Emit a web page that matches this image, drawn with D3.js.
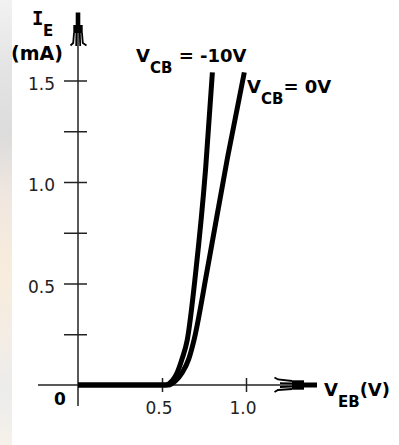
<!DOCTYPE html>
<html>
<head>
<meta charset="utf-8">
<script src="https://cdn.jsdelivr.net/npm/d3@7"></script>
<style>
  html, body { margin: 0; padding: 0; background: #fff; }
  svg { display: block; }
  .tick-label { font-family: "DejaVu Sans", Verdana, sans-serif; font-size: 17px; fill: #222; }
  .bold { font-family: "DejaVu Sans", Verdana, sans-serif; font-weight: bold; fill: #000; }
</style>
</head>
<body>
<div id="app"></div>
<script>
// transistor input characteristic, I_E vs V_EB

const vEB_cb10 = [0, 0.52, 0.56, 0.59, 0.62, 0.65, 0.70, 0.76, 0.80];
const iE_cb10  = [0, 0,    0.02, 0.06, 0.13, 0.22, 0.55, 1.07, 1.54];
const vEB_cb0  = [0, 0.54, 0.58, 0.62, 0.66, 0.69, 0.77, 0.89, 0.99];
const iE_cb0   = [0, 0,    0.02, 0.06, 0.13, 0.22, 0.57, 1.12, 1.54];

const xTicks = [0.5, 1.0];
const xTickLabels = ['0.5', '1.0'];
const yTicks = [0.25, 0.5, 0.75, 1.0, 1.25, 1.5];
const yTickLabels = ['', '0.5', '', '1.0', '', '1.5'];

const W = 399, H = 445;
const app = document.getElementById('app');

const svg = d3.select(app).append('svg')
  .attr('width', W)
  .attr('height', H);

// blurry strip on the left edge
const grad = svg.append('defs').append('linearGradient')
  .attr('id', 'strip').attr('x1', 0).attr('y1', 0).attr('x2', 0).attr('y2', 1);
[[0, '#f2f2f2'], [0.15, '#e4e4e4'], [0.3, '#dcdcdc'], [0.45, '#f1e7e0'],
 [0.6, '#f8ecdc'], [0.75, '#f4ede4'], [0.88, '#ececec'], [1, '#f6f1ea']]
  .forEach(s => grad.append('stop').attr('offset', s[0]).attr('stop-color', s[1]));
svg.append('rect').attr('x', 0).attr('y', 0).attr('width', 12).attr('height', H)
  .attr('fill', 'url(#strip)');

const x = d3.scaleLinear().domain([0, 0.5]).range([78, 162]);
const y = d3.scaleLinear().domain([0, 1.5]).range([385, 80.5]);

const axisColor = '#222';

// axis lines
svg.append('line').attr('x1', 38).attr('x2', 300).attr('y1', y(0)).attr('y2', y(0))
  .attr('stroke', axisColor).attr('stroke-width', 1.5);
svg.append('line').attr('x1', x(0)).attr('x2', x(0)).attr('y1', 406).attr('y2', 25)
  .attr('stroke', axisColor).attr('stroke-width', 1.5);

// y ticks (crossing the axis)
const yAxis = svg.append('g')
  .attr('transform', `translate(${x(0)},0)`)
  .call(d3.axisLeft(y).tickValues(yTicks).tickSize(14).tickFormat(''));
yAxis.select('.domain').remove();
yAxis.selectAll('.tick line').attr('x1', 9).attr('stroke', axisColor).attr('stroke-width', 1.5);

svg.selectAll('text.ylab')
  .data(yTicks).enter()
  .append('text')
  .attr('class', 'tick-label ylab')
  .attr('x', 55)
  .attr('y', d => y(d) + 9)
  .attr('text-anchor', 'end')
  .text((d, i) => yTickLabels[i]);

// x ticks
const xAxis = svg.append('g')
  .attr('transform', `translate(0,${y(0)})`)
  .call(d3.axisBottom(x).tickValues(xTicks).tickSize(7).tickFormat(''));
xAxis.select('.domain').remove();
xAxis.selectAll('.tick line').attr('y1', -7).attr('stroke', axisColor).attr('stroke-width', 1.5);

svg.selectAll('text.xlab')
  .data(xTicks).enter()
  .append('text')
  .attr('class', 'tick-label xlab')
  .attr('x', d => x(d) - 3)
  .attr('y', 414)
  .attr('text-anchor', 'middle')
  .text((d, i) => xTickLabels[i]);

svg.append('text').attr('class', 'bold')
  .attr('x', 60).attr('y', 405).attr('text-anchor', 'middle')
  .style('font-size', '17px').text('0');

// arrows
const yArrow = svg.append('g').attr('transform', `translate(${x(0)},0)`).attr('fill', '#000');
yArrow.append('rect').attr('x', -2.3).attr('y', 12.5).attr('width', 4.6).attr('height', 13);
yArrow.append('rect').attr('x', -4.7).attr('y', 25).attr('width', 9.4).attr('height', 8);
['M-4,33 L-4.8,43 L-7.5,45.5', 'M4,33 L4.8,43 L8.5,45.5', 'M-1.6,33 L-1.8,46', 'M1.8,33 L2.2,46']
  .forEach(p => yArrow.append('path').attr('d', p).attr('fill', 'none')
    .attr('stroke', '#000').attr('stroke-width', 1.8));

const xArrow = svg.append('g').attr('transform', `translate(0,${y(0)})`).attr('fill', '#000');
xArrow.append('rect').attr('x', 303).attr('y', -2.5).attr('width', 14).attr('height', 5);
xArrow.append('rect').attr('x', 292).attr('y', -4.7).attr('width', 12).attr('height', 9.4);
['M292,-4 L278,-5.5 L274.5,-7.5', 'M292,4 L278,5 L274.5,7', 'M292,-1.6 L280,-1.8', 'M292,1.6 L280,2']
  .forEach(p => xArrow.append('path').attr('d', p).attr('fill', 'none')
    .attr('stroke', '#000').attr('stroke-width', 1.8));

// curves
const line = d3.line()
  .x(d => x(d[0]))
  .y(d => y(d[1]))
  .curve(d3.curveMonotoneX);

[[vEB_cb0, iE_cb0], [vEB_cb10, iE_cb10]].forEach(([vs, is]) => {
  svg.append('path')
    .datum(vs.map((v, i) => [v, is[i]]))
    .attr('d', line)
    .attr('fill', 'none')
    .attr('stroke', '#000')
    .attr('stroke-width', 5);
});

// labels
function subLabel(px, py, main, sub, rest, size) {
  const t = svg.append('text').attr('class', 'bold')
    .attr('x', px).attr('y', py).style('font-size', size + 'px');
  t.append('tspan').text(main);
  t.append('tspan').attr('dy', 11).style('font-size', (size - 3) + 'px').text(sub);
  if (rest) t.append('tspan').attr('dy', -11).text(rest);
  return t;
}

// I_E: serifed "I" like the original
const ie = svg.append('text').attr('class', 'bold').attr('x', 32).attr('y', 25);
ie.append('tspan').style('font-family', '"DejaVu Sans Mono", monospace')
  .style('font-size', '19px').text('I');
ie.append('tspan').attr('x', 43).attr('dy', 11).style('font-size', '15px').text('E');

svg.append('text').attr('class', 'bold')
  .attr('x', 11).attr('y', 60).style('font-size', '19px').text('(mA)');

subLabel(136, 62, 'V', 'CB', '\u00a0= -10V', 18);
subLabel(247, 93, 'V', 'CB', '= 0V', 18);
subLabel(324, 396, 'V', 'EB', '(V)', 18);
</script>
</body>
</html>
